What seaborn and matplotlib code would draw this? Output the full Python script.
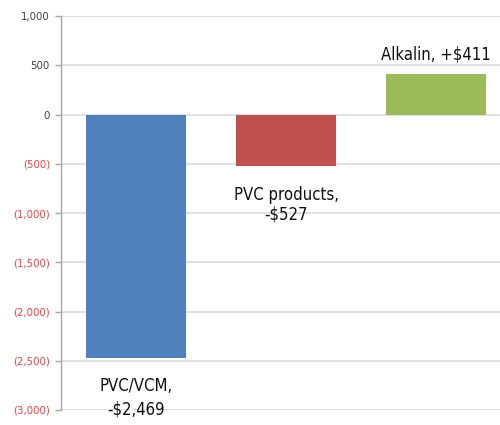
import pandas as pd
import matplotlib.pyplot as plt
import seaborn as sns

segments = ["PVC/VCM", "PVC products", "Alkalin"]
changes = [-2469, -527, 411]
bar_colors = ["#4F81BD", "#C0504D", "#9BBB59"]
label_texts = ["PVC/VCM,\n-$2,469", "PVC products,\n-$527", "Alkalin, +$411"]
y_ticks = [1000, 500, 0, -500, -1000, -1500, -2000, -2500, -3000]

sns.set_style("white")
plt.rcParams["font.family"] = ["DejaVu Sans"]
plt.rcParams["font.stretch"] = "condensed"

df = pd.DataFrame(dict(segment=segments, change=changes))

fig = plt.figure(figsize=(5, 4.25), dpi=100)
ax = fig.add_axes([0.122, 0.0353, 0.9, 0.927])

sns.barplot(
    data=df, x="segment", y="change", hue="segment",
    palette=bar_colors, width=0.667, saturation=1, legend=False, ax=ax,
)
for patch in ax.patches:
    patch.set_linewidth(0)

ax.set_ylim(-3000, 1000)
ax.set_xlim(-0.5, 2.5)
ax.set_yticks(y_ticks)
ax.set_yticklabels([f"{v:,}" if v >= 0 else f"({-v:,})" for v in y_ticks])
for lbl, v in zip(ax.get_yticklabels(), y_ticks):
    lbl.set_color("#404040" if v >= 0 else "#FF3B3B")
    lbl.set_fontsize(8.2)

ax.yaxis.grid(True, color="#D9D9D9", linewidth=1.1)
ax.set_axisbelow(True)
ax.tick_params(axis="y", length=4, width=1, color="#A6A6A6", pad=4, left=True)
ax.tick_params(axis="x", bottom=False, labelbottom=False)
ax.set_xlabel("")
ax.set_ylabel("")
for side in ["top", "right", "bottom"]:
    ax.spines[side].set_visible(False)
ax.spines["left"].set_color("#A6A6A6")
ax.spines["left"].set_linewidth(1)

ax.text(0, -2665, label_texts[0], ha="center", va="top", fontsize=12,
        color="#111111", linespacing=1.4)
ax.text(1, -726, label_texts[1], ha="center", va="top", fontsize=12,
        color="#111111", linespacing=1.1)
ax.text(2, 513, label_texts[2], ha="center", va="bottom", fontsize=12,
        color="#111111")

fig.savefig("out.png", dpi=100)
